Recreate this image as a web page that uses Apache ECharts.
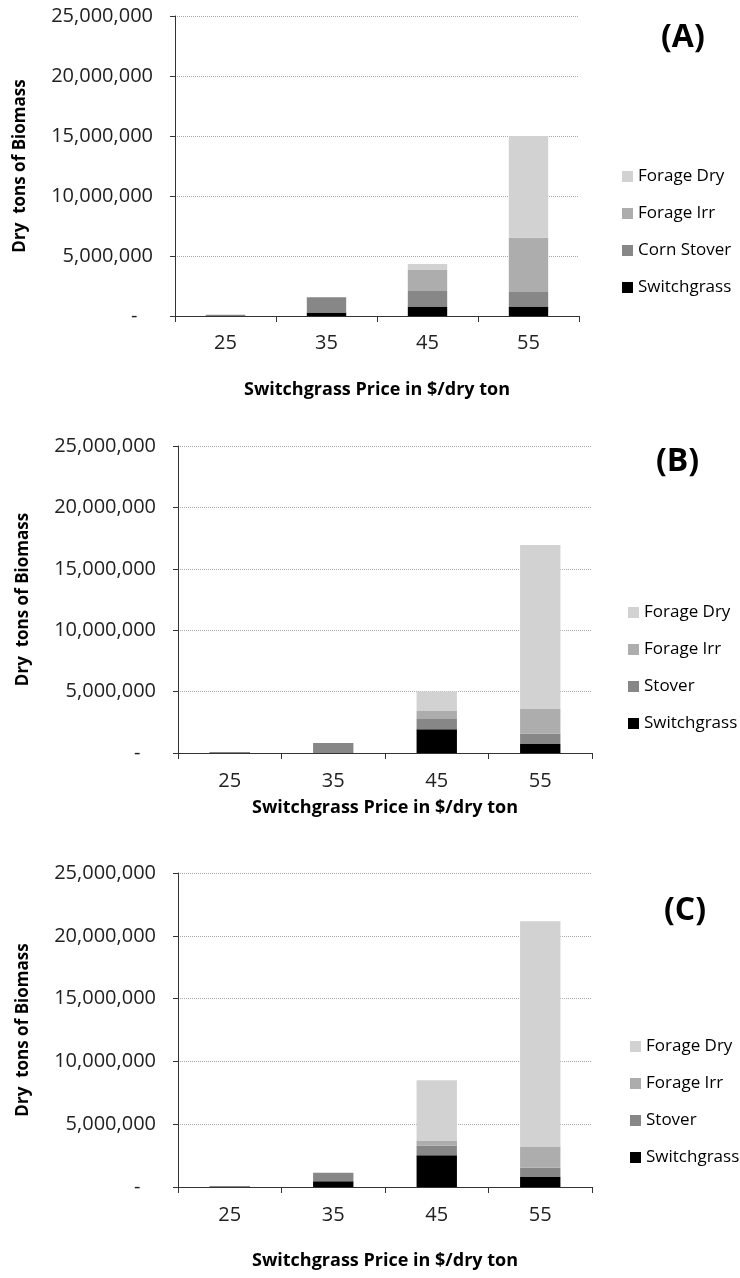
<!DOCTYPE html>
<html>
<head>
<meta charset="utf-8">
<script src="https://cdn.jsdelivr.net/npm/echarts@6/dist/echarts.min.js"></script>
<style>
  html, body { margin: 0; padding: 0; background: #fff; }
  #chart { width: 740px; height: 1278px; }
</style>
</head>
<body>
<div id="chart"></div>
<script>
// Prix du switchgrass ($/dry ton)
const categories = ['25', '35', '45', '55'];

// Panneau (A)
const switchgrassA = [50000, 300000, 800000, 800000];
const stoverA = [50000, 1260000, 1280000, 1200000];
const forageIrrA = [0, 0, 1750000, 4530000];
const forageDryA = [0, 0, 500000, 8470000];

// Panneau (B)
const switchgrassB = [40000, 0, 1940000, 740000];
const stoverB = [40000, 820000, 820000, 840000];
const forageIrrB = [0, 0, 660000, 2000000];
const forageDryB = [0, 0, 1580000, 13360000];

// Panneau (C)
const switchgrassC = [40000, 450000, 2530000, 800000];
const stoverC = [40000, 690000, 770000, 740000];
const forageIrrC = [0, 0, 400000, 1650000];
const forageDryC = [0, 0, 4800000, 17970000];

const panelTitles = ['(A)', '(B)', '(C)'];
const stoverNames = ['Corn Stover', 'Stover', 'Stover'];

const colors = {
    switchgrass: '#000000',
    stover: '#878787',
    forageIrr: '#adadad',
    forageDry: '#d2d2d2'
};

const FONT = '"Open Sans", "Noto Sans", sans-serif';

// Disposition des trois panneaux
const layout = [
    { grid: { left: 175, top: 16, width: 404, height: 300 }, labelMargin: 17, nameGap: 65, title: [661, 22], legend: [622, 168] },
    { grid: { left: 178, top: 446, width: 414, height: 307 }, labelMargin: 18, nameGap: 46, title: [656, 446], legend: [628, 604] },
    { grid: { left: 178, top: 873, width: 414, height: 314 }, labelMargin: 18, nameGap: 65, title: [664, 895], legend: [630, 1038] }
];

function formatTons(v) {
    if (v === 0) return '-   ';
    return v.toLocaleString('en-US');
}

function buildSeries(i, sg, st, irr, dry) {
    const base = {
        type: 'bar',
        stack: 'panel' + i,
        xAxisIndex: i,
        yAxisIndex: i,
        barWidth: '39%',
        animation: false
    };
    return [
        Object.assign({}, base, { name: 'Switchgrass', data: sg, itemStyle: { color: colors.switchgrass } }),
        Object.assign({}, base, { name: stoverNames[i], data: st, itemStyle: { color: colors.stover } }),
        Object.assign({}, base, { name: 'Forage Irr', data: irr, itemStyle: { color: colors.forageIrr } }),
        Object.assign({}, base, { name: 'Forage Dry', data: dry, itemStyle: { color: colors.forageDry } })
    ];
}

const panelData = [
    [switchgrassA, stoverA, forageIrrA, forageDryA],
    [switchgrassB, stoverB, forageIrrB, forageDryB],
    [switchgrassC, stoverC, forageIrrC, forageDryC]
];

const option = {
    backgroundColor: '#fff',
    animation: false,
    title: layout.map((l, i) => ({
        text: panelTitles[i],
        left: l.title[0],
        top: l.title[1],
        padding: 0,
        textStyle: { fontFamily: FONT, fontSize: 32, fontWeight: 'bold', color: '#000' }
    })),
    legend: layout.map((l, i) => ({
        orient: 'vertical',
        left: l.legend[0],
        top: l.legend[1],
        padding: 0,
        icon: 'rect',
        itemWidth: 11,
        itemHeight: 11,
        itemGap: 20,
        selectedMode: false,
        data: ['Forage Dry', 'Forage Irr', stoverNames[i], 'Switchgrass'],
        textStyle: { fontFamily: FONT, fontSize: 17, color: '#000', lineHeight: 17 }
    })),
    grid: layout.map(l => l.grid),
    xAxis: layout.map((l, i) => ({
        type: 'category',
        gridIndex: i,
        data: categories,
        name: 'Switchgrass Price in $/dry ton',
        nameLocation: 'middle',
        nameGap: l.nameGap,
        nameTextStyle: { fontFamily: FONT, fontSize: 18, fontWeight: 'bold', color: '#000' },
        axisLine: { lineStyle: { color: '#333', width: 1 } },
        axisTick: { show: true, length: 6, lineStyle: { color: '#333' } },
        axisLabel: { fontFamily: FONT, fontSize: 20, color: '#222', margin: l.labelMargin },
        splitLine: { show: false }
    })),
    yAxis: layout.map((l, i) => ({
        type: 'value',
        gridIndex: i,
        min: 0,
        max: 25000000,
        interval: 5000000,
        name: 'Dry  tons of Biomass',
        nameLocation: 'middle',
        nameRotate: 90,
        nameGap: 146,
        nameTextStyle: { fontFamily: FONT, fontSize: 17, fontWeight: 'bold', color: '#000' },
        axisLine: { show: true, lineStyle: { color: '#333', width: 1 } },
        axisTick: { show: true, length: 5, lineStyle: { color: '#333' } },
        axisLabel: { fontFamily: FONT, fontSize: 20, color: '#222', margin: 22, formatter: formatTons },
        splitLine: { show: true, lineStyle: { color: '#a8a8a8', type: 'dotted', width: 1 } }
    })),
    series: panelData.flatMap((d, i) => buildSeries(i, d[0], d[1], d[2], d[3]))
};

const chart = echarts.init(document.getElementById('chart'), null, { renderer: 'canvas' });
chart.setOption(option);
</script>
</body>
</html>
